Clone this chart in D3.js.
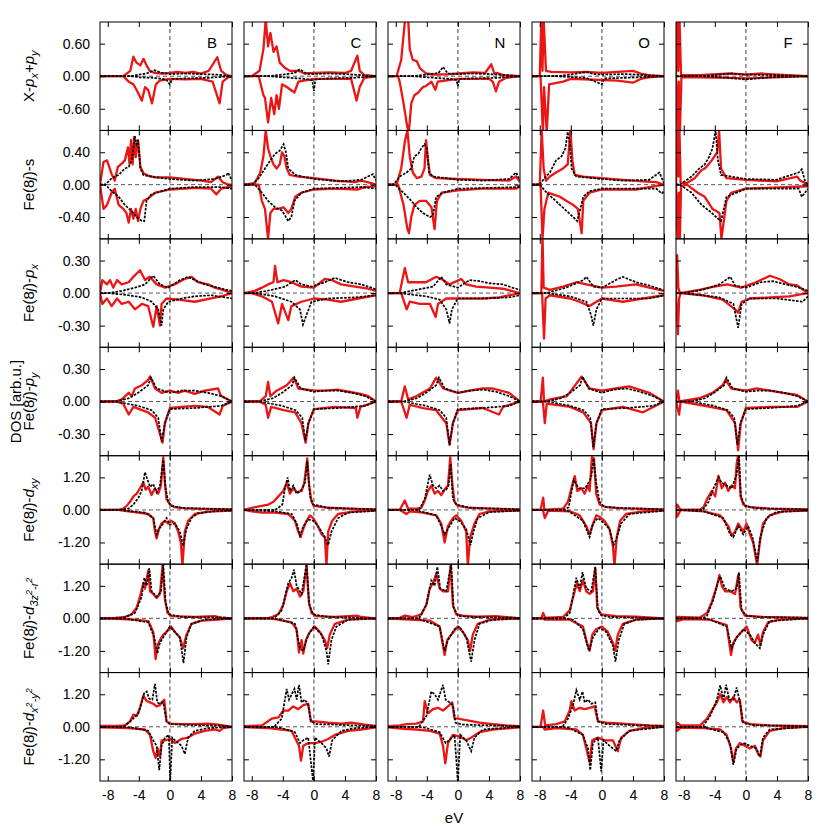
<!DOCTYPE html>
<html><head><meta charset="utf-8">
<script src="https://cdn.jsdelivr.net/npm/d3@7"></script>
<style>body{margin:0;background:#fff}svg{display:block}text{font-family:"Liberation Sans",Arial,Helvetica,sans-serif}</style>
</head><body><svg id="c" width="830" height="832"></svg>
<script>
// ---------- categories / ticks ----------
const dopants = ["B","C","N","O","F"];
const energyDomain = [-9, 8];
const energyTicks = [-8,-4,0,4,8];
const rowLimits = [1.0, 0.67, 0.5, 0.5, 2.0, 2.0, 2.0];
const rowTicks = [[-0.6,0,0.6],[-0.4,0,0.4],[-0.3,0,0.3],[-0.3,0,0.3],[-1.2,0,1.2],[-1.2,0,1.2],[-1.2,0,1.2]];
const axisTitle = "DOS [arb.u.]";
const xTitle = "eV";
const rowLabelParts = [
 [["X-",""],["p","i"],["x","sub"],["+",""],["p","i"],["y","sub"]],
 [["Fe(8",""],["j","i"],[")-s",""]],
 [["Fe(8",""],["j","i"],[")-",""],["p","i"],["x","sub"]],
 [["Fe(8",""],["j","i"],[")-",""],["p","i"],["y","sub"]],
 [["Fe(8",""],["j","i"],[")-",""],["d","i"],["xy","sub"]],
 [["Fe(8",""],["j","i"],[")-",""],["d","i"],["3z","sub"],["2","sup"],["-r","sub"],["2","sup"]],
 [["Fe(8",""],["j","i"],[")-",""],["d","i"],["x","sub"],["2","sup"],["-y","sub"],["2","sup"]]
];

// ---------- series: flat [E, value, E, value, ...] per dopant B,C,N,O,F ----------
// Row 1: X-px+py
const XP_redUp = [
 [-9,0,-6,0,-5.1,.1,-4.7,.36,-4.3,.25,-3.8,.2,-3.4,.32,-3,.2,-2.6,.1,-2,.06,-1,.05,0,.06,1,.08,2,.06,3,.08,4,.05,5,.1,6.1,.35,6.6,.1,7.3,.02,8,0],
 [-9,0,-8,0,-7,.1,-6.5,.5,-6.2,1.05,-5.9,.55,-5.6,.8,-5.2,.45,-4.8,.55,-4.4,.25,-3.7,.15,-3.1,.1,-2,.1,-1.2,.05,0,.06,2,.07,4,.06,4.8,.1,5.6,.38,5.9,.1,6.5,.02,8,0],
 [-9,0,-7.9,0,-7.3,.3,-6.8,1.05,-6.4,1.05,-6.2,.5,-5.8,.3,-5.3,.28,-4.9,.15,-4.1,.05,-3,.03,-1,.04,0,.05,2,.07,3.5,.06,4.3,.22,4.7,.05,5.1,.06,5.8,.02,8,0],
 [-9,0,-8,0,-7.8,1.05,-7.65,.1,-7.5,1.05,-7.2,.1,-6.5,.08,-4,.07,-2,.08,0,.06,2,.08,4,.1,5,.05,6,.02,8,0],
 [-9,0,-8.85,1.05,-8.7,.1,-8.55,1.05,-8.35,.02,-6,.02,-2,.05,0,.03,2,.05,4,.03,8,0]
];
const XP_redDn = [
 [-9,0,-6,0,-5.3,-.1,-4.7,-.15,-4.3,-.25,-3.6,-.45,-3.2,-.2,-2.8,-.25,-2.3,-.5,-1.8,-.15,-1.3,-.08,0,-.05,2,-.06,4,-.05,5.5,-.1,6.4,-.5,6.8,-.1,7.5,-.02,8,0],
 [-9,0,-7.1,0,-6.5,-.35,-6.3,-.4,-5.9,-.85,-5.5,-.4,-5.1,-.7,-4.8,-.35,-4.5,-.6,-4.1,-.15,-3.5,-.2,-2.5,-.3,-2,-.1,0,-.05,2,-.05,4.8,-.05,5.5,-.45,5.9,-.2,6.5,-.03,8,0],
 [-9,0,-7.7,0,-7.5,-.1,-7,-.5,-6.5,-.95,-6.3,-1,-6,-.5,-5.6,-.35,-5.1,-.3,-4.5,-.2,-4.1,-.18,-3.4,-.1,-2.9,-.25,-2.6,-.1,0,-.05,4,-.05,4.5,-.1,4.9,-.28,5.3,-.1,6.2,-.03,8,0],
 [-9,0,-7.9,0,-7.6,-1.05,-7.45,-.2,-7.1,-1.05,-6.8,-.15,-5,-.1,-4,-.05,0,-.07,2,-.08,4,-.12,5,-.05,6,-.02,8,0],
 [-9,0,-8.8,-1.05,-8.65,-.1,-8.5,-1.05,-8.3,-.02,-6,-.02,-2,-.03,0,-.04,2,-.03,8,0]
];
const XP_blkUp = [
 [-9,0,-5,0,-4,.03,-3,.05,-2,.11,-1,.06,0,.04,2,.05,4,.04,6,.03,8,0],
 [-9,0,-6,0,-4,.03,-2.5,.06,-1.8,.13,-1,.05,0,.04,2,.05,4,.04,8,0],
 [-9,0,-6,0,-4,.03,-2.5,.06,-1.9,.17,-1.3,.05,0,.04,2,.05,4,.04,8,0],
 [-9,0,-6,0,-4,.03,-2,.08,-1,.04,0,.03,3,.04,8,0],
 [-9,0,-6,0,-4,.02,-2,.05,0,.03,4,.02,8,0]
];
const XP_blkDn = [
 [-9,0,-5,0,-4,-.02,-2,-.03,-.5,-.06,0,-.15,.3,-.05,2,-.04,5,-.03,8,0],
 [-9,0,-6,0,-3,-.03,-1,-.05,-.2,-.08,0,-.27,.2,-.06,2,-.04,5,-.03,8,0],
 [-9,0,-6,0,-3,-.03,-1,-.05,-.2,-.07,0,-.18,.2,-.05,2,-.04,5,-.03,8,0],
 [-9,0,-6,0,-2,-.03,0,-.15,.3,-.04,3,-.03,8,0],
 [-9,0,-6,0,-3,-.02,0,-.06,3,-.02,8,0]
];
// Row 2: Fe(8j)-s
const FS_redUp = [
 [-9,0,-8.55,.28,-8.1,.3,-7.5,.13,-7.1,.05,-6.7,.22,-6.2,.26,-5.8,.3,-5.4,.46,-5.2,.26,-5,.55,-4.8,.25,-4.6,.59,-4.4,.34,-4.1,.55,-3.8,.22,-3.4,.14,-2.8,.11,-1.9,.09,0,.09,1.9,.07,4.1,.05,5.3,.03,6.2,.1,6.8,.03,7.5,0,8,0],
 [-9,0,-7.6,.02,-6.9,.15,-6.5,.35,-6.2,.67,-5.9,.45,-5.6,.35,-5.2,.25,-4.8,.2,-4.4,.25,-4.1,.4,-3.8,.35,-3.5,.2,-3.1,.12,-2,.1,0,.08,2.7,.05,5.3,.03,6.1,.05,7.4,.02,8,0],
 [-9,0,-7.9,0,-7.3,.2,-6.8,.55,-6.5,.67,-6.2,.35,-5.8,.15,-5.3,.08,-4.7,.1,-4.3,.2,-4.1,.55,-3.85,.3,-3.6,.12,-2.8,.08,0,.07,3.2,.06,6.6,.05,7.5,.1,8,.03],
 [-9,0,-8,0,-7.75,.67,-7.5,.2,-7.2,.05,-6.7,.1,-5.9,.15,-5,.2,-4.4,.25,-4.05,.67,-3.8,.3,-3.5,.12,-2.4,.1,0,.08,2.7,.06,5.3,.04,7,.03,8,0],
 [-9,0,-8.85,.67,-8.7,.1,-8.55,.67,-8.4,.02,-7.6,.02,-6.6,.08,-5.7,.18,-5.3,.2,-4.8,.25,-4.4,.3,-3.7,.4,-3.45,.67,-3.2,.2,-2.5,.08,0,.06,3.9,.04,6.6,.1,7,.05,8,0]
];
const FS_redDn = [
 [-9,0,-8.55,-.3,-8.1,-.25,-7.5,-.1,-7.1,-.05,-6.6,-.25,-6,-.3,-5.6,-.35,-5.3,-.47,-5,-.3,-4.7,-.42,-4.4,-.3,-4.1,-.45,-3.8,-.3,-3.4,-.2,-2.8,-.17,-1.9,-.1,0,-.06,3.2,-.04,5.3,-.05,6,-.12,6.6,-.05,8,-.02],
 [-9,0,-7.1,0,-6.7,-.2,-6.3,-.3,-5.9,-.67,-5.6,-.35,-5.2,-.3,-4.6,-.3,-3.9,-.28,-3.3,-.35,-2.9,-.3,-2.4,-.15,-1.6,-.1,0,-.06,2.7,-.05,5.7,-.06,6.5,-.03,8,-.02],
 [-9,0,-7.7,0,-7,-.25,-6.5,-.55,-6.3,-.6,-6,-.4,-5.6,-.25,-4.9,-.2,-4.1,-.2,-3.4,-.28,-3,-.55,-2.7,-.2,-2.1,-.1,0,-.07,3.2,-.05,7.5,-.05,8,-.02],
 [-9,0,-7.9,0,-7.65,-.67,-7.4,-.3,-6.9,-.1,-6.3,-.12,-5.4,-.15,-4.6,-.2,-3.7,-.25,-3.1,-.3,-2.6,-.6,-2.4,-.2,-1.6,-.1,0,-.06,4.4,-.06,6.1,-.03,8,0],
 [-9,0,-8.8,-.67,-8.65,-.1,-8.5,-.67,-8.35,-.02,-7.6,0,-6.2,-.1,-5.3,-.15,-4.3,-.3,-3.4,-.35,-3.15,-.67,-2.5,-.2,-1.9,-.1,0,-.05,8,-.02]
];
const FS_blkUp = [
 [-9,0,-8.3,0,-7.5,.08,-6.6,.12,-5.8,.2,-5.3,.22,-4.9,.3,-4.7,.45,-4.5,.6,-4.3,.5,-4.1,.55,-3.8,.2,-3.4,.12,-2.4,.1,0,.07,3.2,.05,5.8,.07,7.3,.12,7.5,.15,8,.05],
 [-9,0,-8,0,-7.1,.08,-6.3,.2,-5.6,.3,-5,.38,-4.4,.42,-3.9,.5,-3.6,.4,-3.3,.2,-2.4,.12,0,.07,3.5,.04,6.1,.06,7.6,.13,8,.05],
 [-9,0,-8.3,0,-7.5,.1,-6.6,.15,-6,.2,-5.6,.35,-5.1,.38,-4.7,.45,-4.3,.5,-4,.45,-3.7,.15,-3.2,.1,0,.06,3.2,.05,6.6,.07,7.5,.15,8,.05],
 [-9,0,-8,0,-7.4,.08,-6.7,.15,-5.9,.3,-5.2,.35,-4.7,.45,-4.4,.65,-4.1,.5,-3.9,.2,-3.3,.1,0,.07,2.7,.05,6.1,.06,7.4,.15,8,.02],
 [-9,0,-8.5,0,-7,.1,-6,.2,-5.3,.25,-4.7,.35,-4.3,.45,-3.9,.67,-3.6,.3,-3.2,.12,0,.07,3.9,.06,6.8,.15,7.2,.19,7.6,.05,8,0]
];
const FS_blkDn = [
 [-9,0,-8.3,0,-7.5,-.08,-6.6,-.15,-5.8,-.25,-4.9,-.33,-4.3,-.4,-3.6,-.45,-3.3,-.45,-3,-.2,-2.4,-.12,0,-.05,3.2,-.03,6.6,-.03,8,-.05],
 [-9,0,-7.6,0,-6.7,-.1,-5.9,-.2,-5,-.28,-4.1,-.32,-3.3,-.45,-2.9,-.4,-2.5,-.2,-1.6,-.1,0,-.05,6.1,-.03,8,-.05],
 [-9,0,-8.1,0,-7,-.1,-6,-.2,-5.3,-.28,-4.5,-.35,-3.6,-.4,-3.2,-.38,-2.8,-.15,-1.9,-.1,0,-.05,8,-.03],
 [-9,0,-8,0,-7.1,-.1,-6.3,-.17,-5.4,-.25,-4.6,-.32,-3.7,-.4,-3.2,-.45,-2.9,-.35,-2.4,-.15,-1.6,-.08,0,-.05,7,-.05,7.7,-.11,8,-.08],
 [-9,0,-8.5,0,-7,-.1,-5.7,-.25,-4.4,-.35,-3.6,-.42,-3.2,-.45,-2.5,-.15,0,-.05,6.8,-.05,7.2,-.15,8,-.05]
];
// Row 3: Fe(8j)-px
const FPX_redUp = [
 [-9,0,-8.7,.12,-8.1,.08,-7.7,.12,-7.3,.05,-6.8,.12,-6.2,.08,-5.3,.1,-4.7,.15,-3.85,.21,-3.2,.12,-2.6,.15,-1.7,.08,-.6,.05,.6,.08,1.9,.13,2.8,.15,3.6,.1,4.9,.08,5.8,.05,6.8,.03,8,0],
 [-9,0,-7.6,.02,-6.7,.05,-5.9,.08,-5.2,.1,-5,.25,-4.7,.1,-3.9,.12,-2.9,.1,-1.6,.06,0,.05,1.4,.13,2.3,.12,3.5,.08,5.3,.06,7,.04,8,.02],
 [-9,0,-7.5,0,-6.84,.23,-6.41,.1,-5.3,.1,-4.1,.1,-2.8,.15,-1.9,.12,-1.07,.08,.43,.13,1.07,.08,2.35,.06,4.1,.05,5.8,.04,8,0],
 [-9,0,-7.8,0,-7.65,.55,-7.5,.05,-6.7,.03,-5,.06,-3.3,.1,-2,.08,0,.05,1.8,.06,4.4,.08,6.1,.05,8,.02],
 [-9,0,-8.85,.35,-8.7,.05,-8.5,0,-6,.03,-4.1,.06,-2.4,.08,-.6,.05,1.3,.1,3.1,.16,4.3,.13,5.6,.08,6.6,.07,8,0]
];
const FPX_redDn = [
 [-9,0,-8.7,-.1,-8.1,-.05,-7.5,-.12,-6.8,-.05,-6.2,-.1,-5.3,-.08,-4.5,-.15,-3.6,-.1,-2.8,-.12,-2.35,-.25,-2.14,-.31,-1.7,-.12,-1.28,-.3,-1.07,-.1,-.43,-.05,1.1,-.06,3.2,-.08,5.3,-.05,6.6,-.03,8,0],
 [-9,0,-8,0,-6.7,-.03,-5.4,-.08,-4.6,-.28,-4.1,-.1,-3.3,-.25,-2.9,-.12,-1.6,-.08,0,-.05,1.8,-.06,3.5,-.08,5.7,-.05,8,-.02],
 [-9,0,-7.3,0,-6.6,-.15,-6.2,-.08,-4.9,-.1,-3.6,-.1,-2.86,-.22,-2.56,-.1,-1.5,-.05,.2,-.05,3.2,-.05,5.3,-.04,8,0],
 [-9,0,-7.7,0,-7.45,-.42,-7.25,-.05,-6.7,-.02,-4.1,-.05,-2.9,-.08,-1.6,-.12,-.7,-.08,0,-.05,2.7,-.08,5.3,-.05,8,-.02],
 [-9,0,-8.75,-.38,-8.6,-.05,-8.4,0,-5.6,-.02,-3,-.06,-1.4,-.15,-1,-.18,-.55,-.08,.5,-.05,3.1,-.04,5.6,-.03,8,0]
];
const FPX_blkUp = [
 [-9,0,-7.9,0,-6.2,.02,-4.5,.05,-3.2,.08,-2.14,.16,-1.28,.08,-.2,.05,1.3,.12,2.35,.15,3.2,.12,4.5,.08,6.2,.05,7.3,.03,8,.02],
 [-9,0,-7.6,0,-5.4,.03,-3.7,.06,-2.4,.12,-1.6,.08,-.3,.06,1.4,.1,2.7,.14,4.4,.1,6.1,.08,7.8,.04,8,.03],
 [-9,0,-7.5,0,-5.3,.03,-3.2,.06,-2.14,.15,-1.5,.08,0,.05,1.5,.12,2.8,.11,4.1,.09,5.8,.08,7,.05,8,.03],
 [-9,0,-7.1,0,-4.6,.05,-2.4,.12,-2,.15,-1.1,.06,0,.05,1.8,.12,2.7,.15,4.4,.1,6.1,.07,7.8,.03,8,.02],
 [-9,0,-8,0,-5.6,.03,-3.4,.08,-2,.15,-1.4,.07,0,.05,1.9,.1,3.5,.11,5.1,.08,6.4,.06,7.3,.04,8,.02]
];
const FPX_blkDn = [
 [-9,0,-7.9,0,-5.3,-.02,-3.6,-.04,-2.35,-.08,-1.5,-.15,-1.07,-.3,-.85,-.15,-.2,-.08,1.5,-.05,3.2,-.03,5.3,-.02,8,-.05],
 [-9,0,-7.6,0,-5,-.03,-2.9,-.08,-1.8,-.15,-1.4,-.29,-.94,-.2,-.3,-.08,1.8,-.05,5.3,-.04,8,-.02],
 [-9,0,-7.5,0,-4.1,-.03,-2.35,-.06,-1.5,-.15,-1.07,-.28,-.77,-.15,0,-.05,3.2,-.05,6.6,-.04,8,-.02],
 [-9,0,-7.1,0,-4.1,-.03,-2,-.08,-1.4,-.2,-1.1,-.3,-.7,-.15,0,-.05,2.7,-.05,6.1,-.05,8,-.02],
 [-9,0,-8,0,-3.4,-.04,-1.6,-.1,-1,-.32,-.55,-.1,.5,-.05,4,-.05,7.3,-.08,8,-.03]
];
// Row 4: Fe(8j)-py
const FPY_redUp = [
 [-9,0,-7,0,-6.2,.02,-5.3,.08,-4.9,.05,-4.5,.12,-3.6,.15,-2.8,.2,-2.56,.23,-1.9,.12,-1.07,.08,0,.1,1.07,.08,1.9,.1,3.2,.07,4.5,.1,6.2,.12,6.6,.05,8,0],
 [-9,0,-7,0,-6.2,.05,-5.9,.18,-5.6,.05,-4.8,.1,-3.5,.15,-2.6,.22,-2,.12,0,.1,1.5,.1,3,.11,4.5,.09,6,.07,7,.05,8,0],
 [-9,0,-7.3,0,-6.84,.14,-6.4,.02,-5.3,.05,-3.6,.12,-2.8,.22,-1.9,.12,0,.08,1.5,.1,3.2,.12,4.5,.12,6.6,.08,8,0],
 [-9,0,-7.9,0,-7.6,.22,-7.45,0,-6.7,.02,-4.5,.05,-2.6,.23,-1.6,.12,0,.1,1.8,.12,3.5,.14,6.1,.08,8,0],
 [-9,0,-8.75,.1,-8.55,0,-6,.03,-4.3,.08,-3,.15,-2.6,.2,-1.9,.12,0,.1,1.4,.12,3.1,.1,4.8,.08,6.6,.06,8,0]
];
const FPY_redDn = [
 [-9,0,-7,0,-6,-.02,-5.3,-.12,-4.7,-.05,-3.6,-.08,-2.8,-.1,-1.9,-.15,-1.28,-.3,-.94,-.38,-.64,-.2,0,-.06,1.5,-.05,3.2,-.04,4.9,-.05,6.4,-.12,6.8,-.04,8,0],
 [-9,0,-7,0,-6.2,-.03,-5.9,-.15,-5.5,-.05,-3.9,-.08,-2.4,-.1,-1.6,-.2,-1.07,-.38,-.7,-.2,0,-.07,2.7,-.05,5.4,-.06,5.6,-.15,6,-.05,8,0],
 [-9,0,-7.3,0,-6.6,-.15,-6.2,-.03,-4.5,-.06,-2.8,-.08,-1.5,-.2,-1.07,-.4,-.64,-.2,0,-.08,3.2,-.06,5.3,-.12,5.8,-.05,8,0],
 [-9,0,-7.6,0,-7.35,-.2,-7.1,-.02,-4.1,-.05,-2.4,-.1,-1.4,-.2,-1.07,-.44,-.7,-.2,0,-.08,2.7,-.05,5.3,-.1,8,0],
 [-9,0,-8.6,-.12,-8.4,0,-4.6,-.05,-2.5,-.08,-1.4,-.2,-1,-.45,-.65,-.2,0,-.06,3.1,-.05,6.6,-.05,8,0]
];
const FPY_blkUp = [
 [-9,0,-7,0,-5.3,.03,-4.1,.08,-2.8,.15,-2.44,.22,-1.7,.12,0,.08,1.5,.1,3.2,.1,4.9,.08,6.6,.05,8,0],
 [-9,0,-7,0,-5.3,.03,-4.1,.08,-2.8,.15,-2.5,.22,-1.7,.12,0,.09,1.5,.1,3.2,.1,4.9,.08,6.6,.05,8,0],
 [-9,0,-7,0,-5.3,.03,-4.1,.08,-2.8,.15,-2.44,.22,-1.7,.12,0,.08,1.5,.1,3.2,.11,4.9,.09,6.6,.05,8,0],
 [-9,0,-7,0,-5.3,.03,-4.1,.08,-2.8,.15,-2.5,.23,-1.7,.12,0,.08,1.5,.11,3.2,.12,4.9,.09,6.6,.05,8,0],
 [-9,0,-7,0,-5.3,.03,-4.1,.08,-2.8,.15,-2.5,.22,-1.7,.12,0,.09,1.5,.1,3.2,.1,4.9,.08,6.6,.05,8,0]
];
const FPY_blkDn = [
 [-9,0,-7,0,-4.1,-.04,-2.35,-.08,-1.5,-.15,-1.07,-.37,-.64,-.2,0,-.07,3.2,-.06,6.6,-.04,8,0],
 [-9,0,-7,0,-4.1,-.04,-2.35,-.08,-1.5,-.15,-1.1,-.36,-.7,-.2,0,-.07,3.2,-.06,6.6,-.04,8,0],
 [-9,0,-7,0,-4.1,-.04,-2.35,-.08,-1.5,-.15,-1.07,-.4,-.64,-.2,0,-.07,3.2,-.06,6.6,-.04,8,0],
 [-9,0,-7,0,-4.1,-.04,-2.35,-.08,-1.5,-.15,-1.1,-.42,-.7,-.2,0,-.07,3.2,-.06,6.6,-.04,8,0],
 [-9,0,-7,0,-4.1,-.04,-2.35,-.08,-1.5,-.15,-1.1,-.4,-.7,-.2,0,-.07,3.2,-.06,6.6,-.04,8,0]
];
// Row 5: Fe(8j)-dxy
const DXY_redUp = [
 [-9,0,-6.6,0,-6,.05,-5.56,.15,-5.13,.3,-4.7,.5,-4.27,.6,-3.85,.8,-3.42,1.02,-3.12,.75,-2.78,.85,-2.35,.55,-1.92,.8,-1.5,.6,-1.15,.9,-.85,1.95,-.64,1,-.43,.4,0,.2,.64,.1,1.92,.06,4.06,.04,6.62,.03,8,.02],
 [-9,0,-8.4,.05,-7.56,.1,-6.71,.15,-5.85,.2,-5.21,.3,-4.57,.5,-3.93,.7,-3.5,1,-3.08,.6,-2.65,.8,-2.22,.65,-1.58,.7,-1.24,1,-.85,1.9,-.64,1,-.3,.3,0,.15,1.84,.08,4.4,.05,8,.02],
 [-9,0,-7.5,0,-6.84,.35,-6.41,.05,-5.34,.05,-4.7,.08,-4.27,.35,-3.85,.7,-3.42,.9,-2.99,.6,-2.56,.7,-2.14,.55,-1.71,.75,-1.28,.9,-.98,1.95,-.73,1,-.43,.3,0,.15,1.5,.08,4.06,.05,8,.02],
 [-9,0,-7.9,0,-7.56,.45,-7.4,0,-6.7,.02,-5,.05,-4.36,.3,-3.93,.8,-3.5,1.25,-3.16,.7,-2.65,.8,-2.22,.6,-1.79,.9,-1.58,.7,-1.28,1.95,-1.02,1.9,-.73,.6,-.3,.2,.56,.1,2.7,.06,8,.02],
 [-9,0,-8.85,.2,-8.4,0,-5.9,.02,-5.45,.1,-5,.4,-4.4,.7,-3.95,.5,-3.53,1.26,-3.1,.8,-2.68,1,-2.26,.7,-1.83,.9,-1.4,.8,-1.19,1.7,-.98,2.05,-.68,.5,-.34,.2,.51,.1,3.06,.05,8,.02]
];
const DXY_redDn = [
 [-9,0,-6.6,0,-5.34,-.05,-4.06,-.1,-2.78,-.15,-2.14,-.3,-1.92,-.8,-1.71,-1.05,-1.41,-.7,-1.07,-.5,-.64,-.4,-.21,-.5,.21,-.4,.64,-.5,1.07,-.8,1.41,-1.2,1.62,-2.05,1.92,-.8,2.35,-.4,3.21,-.15,4.91,-.06,8,-.02],
 [-9,0,-8,-.05,-6.71,-.1,-5,-.1,-3.29,-.15,-2.44,-.4,-2.01,-.8,-1.71,-1,-1.37,-.7,-.94,-.4,-.51,-.2,-.09,-.3,.34,-.5,1,-.9,1.41,-1,1.62,-2.05,1.84,-.8,2.35,-.4,3.12,-.15,5.3,-.05,8,-.02],
 [-9,0,-7.48,0,-6.62,-.15,-6.2,-.05,-4.49,-.1,-2.78,-.2,-2.14,-.5,-1.71,-1.2,-1.28,-.6,-.64,-.3,-.21,-.2,.43,-.4,1.07,-.8,1.28,-2.05,1.58,-1,2.14,-.5,2.78,-.15,4.06,-.05,8,-.02],
 [-9,0,-7.6,0,-7.35,-.3,-6.9,-.02,-4.1,-.05,-2.86,-.2,-2.01,-.6,-1.58,-.9,-1.24,-.6,-.73,-.2,-.3,-.25,.34,-.4,.98,-.7,1.41,-1.3,1.62,-2.05,1.92,-1,2.35,-.4,3.12,-.15,5.3,-.05,8,-.02],
 [-9,0,-8.85,-.25,-8.4,0,-5.45,-.05,-3.3,-.2,-2.26,-.6,-1.83,-.95,-1.4,-.8,-.98,-.5,-.34,-.8,.09,-.5,.51,-.9,.94,-1.2,1.45,-2.05,1.79,-1.2,2.21,-.5,3.06,-.2,4.77,-.05,8,-.02]
];
const DXY_blkUp = [
 [-9,0,-6.6,0,-5.34,.05,-4.7,.2,-4.06,.45,-3.63,.7,-3.21,1.39,-2.86,1.1,-2.56,.85,-2.14,.95,-1.71,.65,-1.28,.9,-.85,1.85,-.56,.8,-.21,.3,.21,.15,1.5,.08,4.06,.05,8,.02],
 [-9,0,-5,0,-4.7,.05,-4.06,.2,-3.72,.8,-3.38,1.2,-3.08,.7,-2.65,.9,-2.22,.6,-1.58,.75,-1.15,1,-.85,1.8,-.51,.5,-.09,.2,1.84,.08,8,.02],
 [-9,0,-5,0,-4.91,.05,-4.27,.4,-3.63,1.3,-3.21,.9,-2.78,.8,-2.35,.9,-1.92,.7,-1.5,.75,-1.2,.9,-.94,1.7,-.64,.4,-.21,.2,1.5,.08,8,.02],
 [-9,0,-5,0,-4.27,.1,-3.63,1.1,-2.99,.8,-2.14,.8,-1.37,1.2,-1.07,1.9,-.73,1,-.3,.3,.3,.12,1.84,.08,8,.02],
 [-9,0,-5.5,0,-5.45,.05,-4.8,.3,-4.17,.8,-3.53,1.2,-3.1,1,-2.47,.9,-1.83,.8,-1.19,1.3,-.89,2.05,-.64,.5,-.13,.15,1.36,.06,8,.02]
];
const DXY_blkDn = [
 [-9,0,-6.6,0,-4.91,-.05,-3.21,-.1,-2.14,-.3,-1.71,-.9,-1.41,-.7,-.85,-.5,-.43,-.3,0,-.55,.64,-.5,1.28,-.8,1.71,-1.32,2.14,-.7,2.78,-.3,3.63,-.12,5.77,-.05,8,-.02],
 [-9,0,-5,-.05,-2.86,-.15,-2.22,-.5,-1.79,-.95,-1.37,-.6,-.73,-.35,-.09,-.4,.56,-.6,1.2,-.9,1.84,-1.3,2.26,-.8,3.12,-.3,4.4,-.1,8,-.03],
 [-9,0,-5,0,-4.91,-.05,-2.78,-.2,-2.14,-.6,-1.71,-.9,-1.07,-.6,-.43,-.3,.21,-.4,1.07,-.7,1.62,-1.3,2.01,-.8,2.56,-.3,4.06,-.08,8,-.02],
 [-9,0,-5,0,-4.27,-.05,-2.44,-.4,-1.58,-1,-1.15,-.5,-.51,-.3,.13,-.45,.98,-.7,1.5,-1.3,1.84,-1.1,2.48,-.5,3.55,-.15,8,-.03],
 [-9,0,-5.45,-.05,-2.89,-.3,-2.04,-.9,-1.62,-1,-.98,-.6,-.34,-.9,.3,-.6,.85,-1,1.45,-1.9,1.87,-1,2.64,-.3,3.91,-.08,8,-.02]
];
// Row 6: Fe(8j)-d3z2-r2
const DZ2_redUp = [
 [-9,0,-7.05,.02,-5.77,.05,-4.91,.15,-4.27,.4,-3.85,.8,-3.42,1.3,-3.21,1.1,-2.78,1.77,-2.56,1,-2.14,.9,-1.71,.75,-1.28,.9,-.94,1.95,-.64,.7,-.3,.2,.21,.08,3.21,.05,5.77,.08,6.62,.03,8,0],
 [-9,0,-6,0,-5.4,.05,-4.57,.15,-3.93,.5,-3.5,1,-3.08,1.3,-2.65,1,-2.22,1.1,-1.79,.8,-1.37,1,-.94,1.95,-.64,.6,-.3,.2,.34,.08,2.7,.05,5.6,.1,6,.05,8,0],
 [-9,0,-7.48,.02,-6.84,.1,-5.77,.05,-4.7,.15,-4.06,.5,-3.63,1.1,-3.21,1.3,-2.78,1.65,-2.35,1.1,-1.92,1,-1.28,1,-.94,1.95,-.64,.5,-.21,.15,.64,.1,2.35,.06,4.91,.08,6.62,.04,8,0],
 [-9,0,-7.8,0,-7.56,.2,-7.3,.02,-5,.05,-4.14,.3,-3.5,1,-3.2,1.3,-2.86,1,-2.44,1.4,-2.01,1,-1.58,.9,-1.15,1,-.85,1.85,-.6,.4,-.09,.15,1.84,.08,4.4,.06,8,0],
 [-9,0,-8.85,.05,-5.9,.03,-5,.2,-4.4,.6,-3.74,1.2,-3.4,1.6,-3.1,1.2,-2.68,1,-2.04,1,-1.4,.9,-.98,1.6,-.68,.4,-.13,.1,2.21,.05,8,.02]
];
const DZ2_redDn = [
 [-9,0,-7.05,-.02,-4.49,-.05,-2.78,-.1,-2.14,-.5,-1.84,-1.5,-1.58,-1,-1.28,-.8,-.85,-.6,-.43,-.5,.13,-.3,.64,-.5,1.28,-.7,1.71,-1.1,2.14,-.6,2.78,-.2,4.06,-.08,6.2,-.05,8,0],
 [-9,0,-6,0,-4.98,-.03,-2.86,-.15,-2.22,-.4,-1.92,-1.26,-1.58,-.8,-1.37,-1.3,-1.02,-.8,-.51,-.5,.13,-.3,.77,-.5,1.41,-.8,1.71,-1.1,2.05,-.6,2.7,-.2,4.4,-.05,8,0],
 [-9,0,-7.48,-.03,-6.2,-.05,-3.63,-.08,-2.35,-.3,-1.92,-1,-1.71,-1.35,-1.37,-.8,-.85,-.6,0,-.3,.64,-.5,1.28,-.8,1.58,-1.2,1.92,-.6,2.56,-.2,4.06,-.05,8,0],
 [-9,0,-7.6,0,-7.35,-.05,-4.14,-.05,-2.44,-.3,-1.92,-.9,-1.58,-1.2,-1.24,-.6,-.73,-.4,0,-.3,.77,-.5,1.41,-.9,1.71,-1.2,2.05,-.6,2.7,-.2,4.4,-.05,8,0],
 [-9,0,-8.85,-.1,-8,-.03,-4.6,-.05,-2.47,-.25,-1.92,-1.35,-1.62,-.9,-1.19,-.7,-.55,-.5,.09,-.3,.72,-.8,1.15,-.9,1.57,-.6,1.87,-1,2.21,-.5,2.85,-.15,4.34,-.05,8,0]
];
const DZ2_blkUp = [
 [-9,0,-6,0,-5.77,.05,-4.49,.2,-3.63,.8,-3.29,1.5,-2.99,1.2,-2.65,1.85,-2.35,1,-1.71,.8,-1.15,1,-.85,2,-.56,.6,-.13,.15,1.5,.05,8,.02],
 [-9,0,-5.5,0,-4.98,.05,-4.14,.3,-3.29,1.3,-2.86,1.5,-2.56,1.8,-2.22,1.2,-1.58,.9,-.94,2,-.6,.5,-.09,.15,1.84,.05,8,0],
 [-9,0,-5,0,-4.91,.05,-4.06,.5,-3.42,1.4,-2.99,1.2,-2.65,1.9,-2.26,1.1,-1.5,1,-.85,2,-.56,.4,0,.1,1.5,.05,8,.02],
 [-9,0,-4.9,0,-4.14,.2,-3.29,1.5,-2.86,1.1,-2.5,1.7,-2.01,1.1,-1.37,1,-.85,1.9,-.51,.3,-.1,.12,1,.05,8,0],
 [-9,0,-5.5,0,-5,.1,-4.17,.7,-3.53,1.4,-3.3,1.55,-2.68,1.1,-1.83,1,-1.19,1.1,-.89,1.7,-.55,.3,.09,.1,1.5,.05,8,.02]
];
const DZ2_blkDn = [
 [-9,0,-6,0,-5.34,-.03,-2.78,-.15,-2.01,-.7,-1.62,-1.3,-1.28,-.9,-.64,-.6,0,-.3,.64,-.5,1.28,-.7,1.75,-1.65,2.14,-.7,2.78,-.2,4.49,-.05,8,0],
 [-9,0,-5.5,0,-4.57,-.03,-2.44,-.2,-1.79,-1.1,-1.37,-1.2,-.73,-.6,0,-.3,.98,-.6,1.62,-1.2,1.84,-1.7,2.26,-.8,2.9,-.3,4.4,-.05,8,0],
 [-9,0,-5,0,-4.91,-.03,-2.35,-.3,-1.71,-1.2,-1.28,-.8,-.43,-.4,.21,-.3,1.07,-.7,1.71,-1.6,2.14,-.8,2.78,-.2,4.49,-.05,8,0],
 [-9,0,-4.9,0,-3.71,-.05,-2.44,-.4,-1.66,-1.2,-1.15,-.7,-.3,-.35,.56,-.5,1.41,-1,1.75,-1.6,2.18,-.8,2.9,-.2,4.4,-.05,8,0],
 [-9,0,-5.5,0,-4.6,-.05,-2.47,-.3,-1.83,-1.1,-1.19,-.7,-.34,-.4,.51,-.6,1.15,-.9,1.79,-1.1,2.21,-.6,3.06,-.1,8,0]
];
// Row 7: Fe(8j)-dx2-y2
const DX2_redUp = [
 [-9,.03,-7.05,.03,-5.77,.05,-5.13,.2,-4.7,.45,-4.27,.4,-3.85,.7,-3.42,1.15,-2.99,.95,-2.56,.9,-2.14,.85,-1.71,.75,-1.28,.8,-1.07,.9,-.73,1,-.43,.2,0,.12,1.5,.1,3.21,.1,4.91,.12,6.2,.08,6.84,.05,8,0],
 [-9,.02,-6.71,.05,-5.42,.3,-4.57,.35,-3.93,.6,-3.29,.6,-2.65,.75,-2.01,.65,-1.37,.8,-.73,.85,-.38,.2,.13,.2,1.84,.15,3.55,.12,4.83,.15,5.7,.12,6.55,.08,8,.03],
 [-9,.02,-7.48,.05,-6.62,.1,-5.34,.12,-4.49,.2,-4.27,.95,-3.85,.5,-3.21,.65,-2.56,.7,-1.92,.6,-1.28,.75,-.73,.9,-.43,.3,0,.3,1.07,.25,2.78,.15,4.49,.1,6.2,.05,8,.02],
 [-9,0,-7.9,0,-7.56,.6,-7.3,.05,-5.85,.1,-4.78,.2,-4.14,.6,-3.93,.95,-3.5,.6,-2.86,.7,-2.22,.65,-1.58,.7,-.94,.75,-.51,.2,.56,.15,2.7,.12,4.4,.08,6.1,.05,8,.03],
 [-9,0,-8.85,.15,-8.4,.05,-5.9,.05,-5,.3,-4.4,.6,-3.74,.9,-3.3,1.2,-2.89,.9,-2.47,1.1,-2.04,.9,-1.62,1.1,-1.19,.9,-.77,1,-.47,.2,.51,.1,3.06,.05,8,.02]
];
const DX2_redDn = [
 [-9,-.02,-5.34,-.05,-3.21,-.1,-2.56,-.3,-2.14,-.9,-1.84,-1.15,-1.58,-.8,-1.28,-1.1,-1.07,-.5,-.64,-.5,0,-.45,.64,-.6,1.5,-.45,2.35,-.4,3.21,-.25,4.49,-.15,5.77,-.1,6.41,-.15,6.84,-.05,8,0],
 [-9,0,-8.4,-.02,-5.85,-.05,-4.14,-.1,-2.86,-.15,-2.44,-.4,-1.92,-.7,-1.66,-1.25,-1.37,-.7,-.73,-.6,.13,-.6,1,-.55,1.84,-.45,2.7,-.3,4.4,-.15,6.1,-.1,8,-.02],
 [-9,-.02,-7.05,-.08,-5.34,-.1,-3.63,-.15,-2.35,-.25,-1.92,-.7,-1.62,-1.35,-1.28,-.6,-.64,-.3,.21,-.35,1.07,-.5,1.71,-.4,2.78,-.2,4.49,-.1,8,-.02],
 [-9,0,-7.6,0,-7.35,-.1,-5.85,-.05,-3.29,-.1,-2.44,-.3,-1.92,-.9,-1.58,-1.3,-1.24,-.5,-.51,-.4,.34,-.5,1.41,-.5,2.05,-.9,2.48,-.4,3.55,-.15,5.3,-.05,8,0],
 [-9,0,-8.85,-.15,-8.4,-.03,-5.45,-.05,-3.3,-.1,-2.47,-.3,-1.92,-.8,-1.62,-1.3,-1.28,-.8,-.77,-.6,-.13,-.7,.51,-.8,1.15,-.7,1.57,-1,1.87,-1.1,2.21,-.5,3.06,-.15,4.77,-.05,8,0]
];
const DX2_blkUp = [
 [-9,0,-6,0,-5.77,.05,-4.91,.25,-4.06,.5,-3.63,.9,-3.29,1.25,-2.99,1.3,-2.69,1.05,-2.44,1,-2.26,1,-1.92,1.58,-1.62,.9,-1.28,.85,-.85,.9,-.43,.2,0,.1,1.5,.08,4.06,.05,6.62,.04,8,0],
 [-9,0,-5,0,-4.98,.05,-4.14,.3,-3.5,1.4,-3.2,1,-2.86,1.2,-2.5,1.4,-2.22,1,-1.92,1.55,-1.58,.9,-1.15,1,-.73,.8,-.38,.2,.34,.1,2.7,.08,8,.02],
 [-9,0,-5,0,-4.91,.05,-4.06,.4,-3.42,1.3,-2.99,1.2,-2.56,1,-1.92,1.55,-1.58,1,-1.07,.9,-.64,.8,-.3,.15,.64,.08,8,.02],
 [-9,0,-5,0,-4.98,.05,-4.36,.3,-3.71,.8,-3.29,1.35,-2.86,1,-2.5,1.3,-2.22,.9,-1.79,1,-1.37,.85,-.85,.9,-.51,.2,.56,.1,8,.02],
 [-9,0,-5.5,0,-5.45,.05,-4.6,.4,-3.74,1,-3.3,1.53,-2.89,1,-2.55,1.55,-2.13,1,-1.62,1,-1.19,1.45,-.77,.9,-.34,.15,.94,.06,8,.02]
];
const DX2_blkDn = [
 [-9,0,-6,0,-4.49,-.05,-2.78,-.15,-2.14,-.5,-1.71,-.7,-1.37,-1.6,-1.07,-.7,-.64,-.4,-.13,-.3,.04,-2.05,.3,-.4,.85,-.55,1.5,-.7,1.92,-1,2.35,-.4,3.21,-.15,4.91,-.05,8,0],
 [-9,0,-5,0,-4.14,-.05,-2.44,-.2,-1.79,-.6,-1.37,-.5,-.73,-.4,-.09,-2.05,.13,-.4,.98,-.6,1.62,-.8,1.96,-1.1,2.35,-.5,3.55,-.15,5.3,-.05,8,0],
 [-9,0,-5,0,-4.06,-.05,-2.35,-.2,-1.58,-.6,-1.15,-.5,-.43,-.3,0,-2.05,.3,-.3,1.07,-.5,1.71,-.9,2.14,-.4,3.21,-.1,8,0],
 [-9,0,-5,0,-4.14,-.05,-2.44,-.3,-1.79,-.8,-1.5,-1.6,-1.15,-.6,-.51,-.4,-.09,-1.65,.21,-.5,.98,-.7,1.84,-.9,2.26,-.5,3.55,-.15,8,0],
 [-9,0,-5,0,-5,-.05,-2.89,-.2,-2.04,-.6,-1.62,-1.4,-1.19,-.8,-.34,-.6,.51,-.7,1.36,-.8,1.79,-1.1,2.21,-.4,3.06,-.1,8,0]
];

const rowSeries = [
 [XP_redUp, XP_redDn, XP_blkUp, XP_blkDn],
 [FS_redUp, FS_redDn, FS_blkUp, FS_blkDn],
 [FPX_redUp, FPX_redDn, FPX_blkUp, FPX_blkDn],
 [FPY_redUp, FPY_redDn, FPY_blkUp, FPY_blkDn],
 [DXY_redUp, DXY_redDn, DXY_blkUp, DXY_blkDn],
 [DZ2_redUp, DZ2_redDn, DZ2_blkUp, DZ2_blkDn],
 [DX2_redUp, DX2_redDn, DX2_blkUp, DX2_blkDn]
];

// ---------- layout ----------
const svg = d3.select("#c");
svg.append("rect").attr("width",830).attr("height",832).attr("fill","#fff");
const left0 = 100, colW = 132, colStep = 144, top0 = 22, rowH = 108.43;
const FONT = '"Liberation Sans",Arial,Helvetica,sans-serif';
const loc = d3.formatLocale({decimal:".",thousands:",",grouping:[3],currency:["",""],minus:"-"});
const fmtY = loc.format(".2f"), fmtX = loc.format("d");
const toPts = a => d3.range(0, a.length, 2).map(i => [a[i], a[i+1]]);
const RED = "#ec1515";

dopants.forEach((dop, c) => {
  const L = left0 + c*colStep;
  const x = d3.scaleLinear().domain(energyDomain).range([L, L+colW]);
  rowSeries.forEach((series, r) => {
    const T = top0 + r*rowH;
    const y = d3.scaleLinear().domain([-rowLimits[r], rowLimits[r]]).range([T+rowH, T]);
    const g = svg.append("g");
    const cid = `clip-${r}-${c}`;
    svg.append("clipPath").attr("id", cid).append("rect")
      .attr("x", L).attr("y", T).attr("width", colW).attr("height", rowH);
    const plot = g.append("g").attr("clip-path", `url(#${cid})`);
    // zero lines
    plot.append("line").attr("x1", L).attr("x2", L+colW).attr("y1", y(0)).attr("y2", y(0))
      .attr("stroke", "#555").attr("stroke-width", 1).attr("stroke-dasharray", "4,3");
    plot.append("line").attr("x1", x(0)).attr("x2", x(0)).attr("y1", T).attr("y2", T+rowH)
      .attr("stroke", "#777").attr("stroke-width", 1.4).attr("stroke-dasharray", "4,3");
    const line = d3.line().x(d => x(d[0])).y(d => y(d[1]));
    [series[0], series[1]].forEach(s => {
      plot.append("path").attr("d", line(toPts(s[c]))).attr("fill","none")
        .attr("stroke", RED).attr("stroke-width", 2.3).attr("stroke-linejoin","round");
    });
    [series[2], series[3]].forEach(s => {
      plot.append("path").attr("d", line(toPts(s[c]))).attr("fill","none")
        .attr("stroke", "#000").attr("stroke-width", 1.7).attr("stroke-dasharray","2.6,1.3");
    });
    // axes (inward ticks on all sides)
    const isLeft = c === 0, isBottom = r === rowSeries.length - 1;
    const ax = [
      g.append("g").attr("transform", `translate(${L},0)`)
        .call(d3.axisLeft(y).tickValues(rowTicks[r]).tickSize(-5).tickPadding(10)
          .tickFormat(isLeft ? fmtY : () => "")),
      g.append("g").attr("transform", `translate(${L+colW},0)`)
        .call(d3.axisRight(y).tickValues(rowTicks[r]).tickSize(-5).tickFormat(() => "")),
      g.append("g").attr("transform", `translate(0,${T})`)
        .call(d3.axisTop(x).tickValues(energyTicks).tickSize(-5).tickFormat(() => "")),
      g.append("g").attr("transform", `translate(0,${T+rowH})`)
        .call(d3.axisBottom(x).tickValues(energyTicks).tickSize(-5).tickPadding(9)
          .tickFormat(isBottom ? fmtX : () => ""))
    ];
    ax.forEach(a => {
      a.select(".domain").remove();
      a.attr("font-family", FONT).attr("font-size", 14);
      a.selectAll("line").attr("stroke", "#000").attr("stroke-width", 1);
      a.selectAll("text").attr("fill", "#000");
    });
    g.append("rect").attr("x", L).attr("y", T).attr("width", colW).attr("height", rowH)
      .attr("fill", "none").attr("stroke", "#000").attr("stroke-width", 1);
    if (r === 0) {
      g.append("text").attr("x", L + colW - 20).attr("y", T + 26).attr("text-anchor", "middle")
        .attr("font-family", FONT).attr("font-size", 15).text(dop);
    }
  });
});

// row labels (rotated)
const offs = {"":0, i:0, sub:4, sup:-2};
const sizes = {"":15, i:15, sub:11, sup:9};
rowLabelParts.forEach((parts, r) => {
  const cy = top0 + (r + 0.5) * rowH;
  const t = svg.append("text").attr("transform", `translate(34,${cy}) rotate(-90)`)
    .attr("text-anchor", "middle").attr("font-family", FONT).attr("font-size", 15);
  let prev = 0;
  parts.forEach(([txt, st]) => {
    t.append("tspan").attr("dy", offs[st] - prev).attr("font-size", sizes[st])
      .attr("font-style", st === "" ? "normal" : "italic").text(txt);
    prev = offs[st];
  });
});
svg.append("text").attr("transform", `translate(21,${top0 + 3.5*rowH}) rotate(-90)`)
  .attr("text-anchor", "middle").attr("font-family", FONT).attr("font-size", 15).text(axisTitle);
svg.append("text").attr("x", left0 + (4*colStep + colW)/2).attr("y", 823).attr("text-anchor", "middle")
  .attr("font-family", FONT).attr("font-size", 15).text(xTitle);
</script></body></html>
